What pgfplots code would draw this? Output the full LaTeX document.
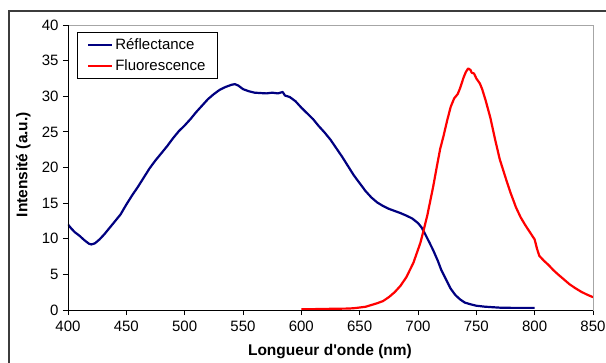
\documentclass[border=0pt]{standalone}
\usepackage{pgfplots}
\pgfplotsset{compat=1.18}
\usepackage{fontspec}
\setmainfont{Liberation Sans}
\definecolor{navyb}{RGB}{0,0,128}
\definecolor{redf}{RGB}{255,0,0}
\definecolor{framec}{RGB}{60,60,60}
\pgfplotstableread{
x y
400 12.0
403 11.4
406 10.9
410 10.4
414 9.8
418 9.3
420 9.2
423 9.35
427 9.9
431 10.6
436 11.6
440 12.4
445 13.4
450 14.8
455 16.1
460 17.3
465 18.6
470 19.9
475 21.0
480 22.0
485 23.0
490 24.1
495 25.1
500 25.9
505 26.8
510 27.8
515 28.7
520 29.6
525 30.3
530 30.9
535 31.3
540 31.6
543 31.7
546 31.5
550 31.0
555 30.7
560 30.5
565 30.45
570 30.4
575 30.5
580 30.4
584 30.6
586 30.1
590 29.9
595 29.3
600 28.4
605 27.6
610 26.8
615 25.8
620 24.9
625 23.9
630 22.7
635 21.5
640 20.2
645 18.9
650 17.8
655 16.7
660 15.8
665 15.1
670 14.6
675 14.2
680 13.9
685 13.6
690 13.25
695 12.85
700 12.2
703 11.6
706 10.7
710 9.4
713 8.4
717 6.9
720 5.6
724 4.3
728 3.0
732 2.1
736 1.5
740 1.05
745 0.8
750 0.6
757 0.47
765 0.38
770 0.33
780 0.3
790 0.3
800 0.3
}\refl
\pgfplotstableread{
x y
600 0.1
610 0.12
620 0.15
630 0.18
640 0.2
645 0.25
650 0.35
655 0.45
660 0.7
665 0.95
670 1.25
675 1.8
680 2.5
685 3.4
690 4.6
693 5.6
696 6.6
699 8.0
702 9.4
705 11.3
708 13.3
711 15.7
713 17.3
716 20.0
719 22.6
722 24.5
725 26.6
728 28.5
731 29.7
734 30.3
736 31.1
739 32.6
741 33.4
743 33.9
745 33.7
746 33.3
748 33.2
750 32.5
753 31.8
755 31.0
758 29.4
762 27.0
766 24.0
770 21.2
775 18.6
779 16.6
784 14.4
788 13.0
792 11.9
796 10.9
800 9.9
802 8.6
804 7.6
808 6.9
812 6.3
816 5.6
820 5.0
825 4.3
830 3.6
835 3.05
840 2.55
845 2.15
850 1.8
}\fluo
\begin{document}
\begin{tikzpicture}[x=1pt,y=1pt]
\useasboundingbox (0,0) rectangle (606,362);
\draw[framec, line width=1.2pt] (9,-20) rectangle (640,351);
\begin{axis}[
  at={(68pt,52pt)}, anchor=south west,
  scale only axis, width=525pt, height=285pt,
  xmin=400, xmax=850, ymin=0, ymax=40,
  xtick={400,450,...,850}, ytick={0,5,...,40},
  xtick pos=bottom, ytick pos=left,
  tick align=outside, major tick length=5pt,
  tick style={black, line width=0.8pt},
  axis line style={gray!70, line width=0.8pt},
  /pgf/number format/assume math mode=true,
  ticklabel style={font=\fontsize{15}{18}\selectfont},
  xticklabel style={yshift=-2pt},
  yticklabel style={xshift=-1pt},
  xlabel={Longueur d\textquotesingle onde (nm)},
  ylabel={Intensité (a.u.)},
  xlabel style={font=\fontsize{15.5}{18}\selectfont\bfseries, at={(axis description cs:0.499,-0.147)}, anchor=center},
  ylabel style={font=\fontsize{15.5}{18}\selectfont\bfseries, at={(axis description cs:-0.085,0.51)}, anchor=center, rotate=0},
  legend style={at={(rel axis cs:0.017,0.975)}, anchor=north west, draw=black, line width=0.8pt,
    font=\fontsize{15}{18}\selectfont, inner xsep=10pt, inner ysep=4pt, row sep=5pt, cells={anchor=west}},
  legend image code/.code={\draw[#1, line width=2pt] (0pt,0pt)--(24pt,0pt);},
]
\addplot[navyb, line width=2.2pt, line join=round] table[x=x,y=y]{\refl};
\addlegendentry{Réflectance}
\addplot[redf, line width=2.2pt, line join=round] table[x=x,y=y]{\fluo};
\addlegendentry{Fluorescence}
\draw[black, line width=0.8pt] (rel axis cs:0,1) -- (rel axis cs:0,0) -- (rel axis cs:1,0);
\end{axis}
\end{tikzpicture}
\end{document}
